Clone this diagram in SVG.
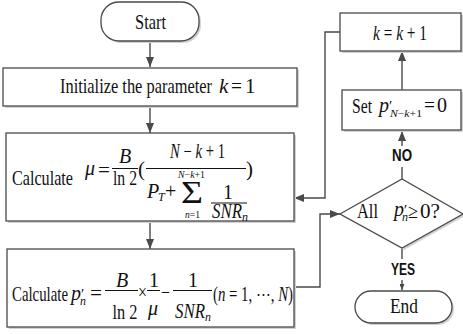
<svg xmlns="http://www.w3.org/2000/svg" width="463" height="334" viewBox="0 0 463 334">
<style>
.box{fill:#fff;stroke:#4a4a4a;stroke-width:1.3}
.sh{fill:#d2d2d2}
.c{fill:none;stroke:#4a4a4a;stroke-width:1.4}
.t{font-family:"Liberation Serif","Times New Roman","DejaVu Serif",serif;font-size:21px;fill:#111}
.m{font-size:20px}
.i{font-style:italic}
.s{font-size:12px}
.xs{font-size:10px}
.pr{font-size:15px}
.bar{stroke:#111;stroke-width:1}
.lbl{font-family:"Liberation Sans","DejaVu Sans",sans-serif;font-weight:bold;font-size:16px;fill:#111}
</style>
<defs>
<marker id="ah" markerUnits="userSpaceOnUse" markerWidth="10" markerHeight="8" refX="10" refY="4" orient="auto"><path d="M0,0 L10,4 L0,8 z" fill="#4a4a4a"/></marker>
<marker id="ahs" markerUnits="userSpaceOnUse" markerWidth="6" markerHeight="5" refX="6" refY="2.5" orient="auto"><path d="M0,0 L6,2.5 L0,5 z" fill="#4a4a4a"/></marker>
</defs>

<g id="connectors">
<line class="c" x1="150" y1="41" x2="150" y2="67" marker-end="url(#ah)"/>
<line class="c" x1="150" y1="106" x2="150" y2="133" marker-end="url(#ah)"/>
<line class="c" x1="150" y1="221" x2="150" y2="249" marker-end="url(#ah)"/>
<polyline class="c" points="294,287 320,287 320,214 340,214" marker-end="url(#ah)"/>
<line class="c" x1="402" y1="179" x2="402" y2="167"/>
<line class="c" x1="402" y1="146" x2="402" y2="131" marker-end="url(#ah)"/>
<line class="c" x1="402" y1="90" x2="402" y2="51" marker-end="url(#ah)"/>
<polyline class="c" points="340,32 325,32 325,198 294,198" marker-end="url(#ah)"/>
<line class="c" x1="402" y1="248" x2="402" y2="259"/>
<line class="c" x1="402" y1="280" x2="402" y2="290" marker-end="url(#ahs)"/>
<text class="lbl" x="402" y="161" text-anchor="middle" textLength="20" lengthAdjust="spacingAndGlyphs">NO</text>
<text class="lbl" x="403" y="275" text-anchor="middle" textLength="24" lengthAdjust="spacingAndGlyphs">YES</text>
</g>

<g id="start">
<rect class="sh" x="103" y="4" width="98" height="39" rx="18"/>
<rect class="box" x="101" y="2" width="98" height="39" rx="18"/>
<text class="t" x="135" y="29" textLength="31" lengthAdjust="spacingAndGlyphs">Start</text>
</g>

<g id="init">
<rect class="sh" x="5" y="70" width="294" height="38"/>
<rect class="box" x="3" y="68" width="294" height="38"/>
<text class="t" x="60" y="93" textLength="152" lengthAdjust="spacingAndGlyphs">Initialize the parameter</text>
<text class="t i" x="219" y="93">k</text>
<text class="t" x="231" y="93" textLength="11" lengthAdjust="spacingAndGlyphs">=</text>
<text class="t" x="245" y="93">1</text>
</g>

<g id="calc-mu">
<rect class="sh" x="8" y="135" width="288" height="88"/>
<rect class="box" x="6" y="133" width="288" height="88"/>
<text class="t" x="12" y="185" textLength="61" lengthAdjust="spacingAndGlyphs">Calculate</text>
<text class="t m i" x="85" y="175">μ</text>
<text class="t m" x="98" y="177" textLength="12" lengthAdjust="spacingAndGlyphs">=</text>
<text class="t m i" x="125" y="163" text-anchor="middle">B</text>
<line class="bar" x1="112" y1="168.5" x2="138" y2="168.5"/>
<text class="t m" x="125" y="185" text-anchor="middle" textLength="24" lengthAdjust="spacingAndGlyphs">ln 2</text>
<text class="t" x="138" y="176">(</text>
<text class="t m" x="170" y="158" textLength="55" lengthAdjust="spacingAndGlyphs"><tspan class="i">N</tspan> − <tspan class="i">k</tspan> + 1</text>
<line class="bar" x1="146" y1="168.5" x2="246" y2="168.5"/>
<text class="t" x="246" y="176">)</text>
<text class="t m i" x="147" y="198">P</text>
<text class="t s i" x="158" y="201">T</text>
<text class="t m" x="165" y="198">+</text>
<text class="t xs" x="178" y="178" textLength="27" lengthAdjust="spacingAndGlyphs"><tspan class="i">N</tspan>−<tspan class="i">k</tspan>+1</text>
<text class="t" x="181" y="203" style="font-size:32px" textLength="22" lengthAdjust="spacingAndGlyphs">Σ</text>
<text class="t xs" x="185" y="218" textLength="15" lengthAdjust="spacingAndGlyphs"><tspan class="i">n</tspan>=1</text>
<text class="t m" x="223" y="199">1</text>
<line class="bar" x1="211" y1="203" x2="247" y2="203"/>
<text class="t m i" x="212" y="218" textLength="30" lengthAdjust="spacingAndGlyphs">SNR</text>
<text class="t s i" x="242" y="221">n</text>
</g>

<g id="calc-p">
<rect class="sh" x="9" y="251" width="287" height="78"/>
<rect class="box" x="7" y="249" width="287" height="78"/>
<text class="t" x="12" y="301" textLength="56" lengthAdjust="spacingAndGlyphs">Calculate</text>
<text class="t m i" x="71" y="300">p</text>
<text class="t pr" x="81" y="299">′</text>
<text class="t s i" x="80" y="305">n</text>
<text class="t m" x="90" y="300" textLength="12" lengthAdjust="spacingAndGlyphs">=</text>
<text class="t m i" x="122" y="287" text-anchor="middle">B</text>
<line class="bar" x1="105" y1="290.5" x2="138" y2="290.5"/>
<text class="t m" x="125" y="319" text-anchor="middle" textLength="25" lengthAdjust="spacingAndGlyphs">ln 2</text>
<text class="t m" x="138" y="299" textLength="9" lengthAdjust="spacingAndGlyphs">×</text>
<text class="t m" x="149" y="287">1</text>
<line class="bar" x1="147" y1="290.5" x2="160" y2="290.5"/>
<text class="t m i" x="148" y="315">μ</text>
<text class="t m" x="161" y="299" textLength="9" lengthAdjust="spacingAndGlyphs">−</text>
<text class="t m" x="188" y="287">1</text>
<line class="bar" x1="173" y1="290.5" x2="212" y2="290.5"/>
<text class="t m i" x="175" y="318" textLength="30" lengthAdjust="spacingAndGlyphs">SNR</text>
<text class="t s i" x="205" y="321">n</text>
<text class="t m" x="213" y="301" textLength="80" lengthAdjust="spacingAndGlyphs">(<tspan class="i">n</tspan> = 1, ⋯, <tspan class="i">N</tspan>)</text>
</g>

<g id="decision">
<polygon class="sh" points="342,216 404,181 465,216 404,250"/>
<polygon class="box" points="340,214 402,179 463,214 402,248"/>
<text class="t" x="357" y="218" textLength="21" lengthAdjust="spacingAndGlyphs">All</text>
<text class="t m i" x="394" y="216">p</text>
<text class="t pr" x="404" y="215">′</text>
<text class="t s i" x="402" y="221">n</text>
<text class="t m" x="408" y="218" textLength="10" lengthAdjust="spacingAndGlyphs">≥</text>
<text class="t m" x="420" y="218" textLength="20" lengthAdjust="spacingAndGlyphs">0?</text>
</g>

<g id="set">
<rect class="sh" x="344" y="92" width="119" height="40"/>
<rect class="box" x="342" y="90" width="119" height="40"/>
<text class="t" x="352" y="113" textLength="20" lengthAdjust="spacingAndGlyphs">Set</text>
<text class="t m i" x="379" y="112">p</text>
<text class="t pr" x="389" y="111">′</text>
<text class="t xs" x="390" y="117" textLength="32" lengthAdjust="spacingAndGlyphs"><tspan class="i">N</tspan>−<tspan class="i">k</tspan>+1</text>
<text class="t m" x="424" y="112" textLength="11" lengthAdjust="spacingAndGlyphs">=</text>
<text class="t m" x="437" y="112">0</text>
</g>

<g id="incr">
<rect class="sh" x="342" y="15" width="121" height="38"/>
<rect class="box" x="340" y="13" width="121" height="38"/>
<text class="t m" x="373" y="40" textLength="54" lengthAdjust="spacingAndGlyphs"><tspan class="i">k</tspan> = <tspan class="i">k</tspan> + 1</text>
</g>

<g id="end">
<rect class="sh" x="357" y="293" width="97" height="32" rx="16"/>
<rect class="box" x="355" y="291" width="97" height="32" rx="16"/>
<text class="t" x="390" y="313" textLength="28" lengthAdjust="spacingAndGlyphs">End</text>
</g>
</svg>
